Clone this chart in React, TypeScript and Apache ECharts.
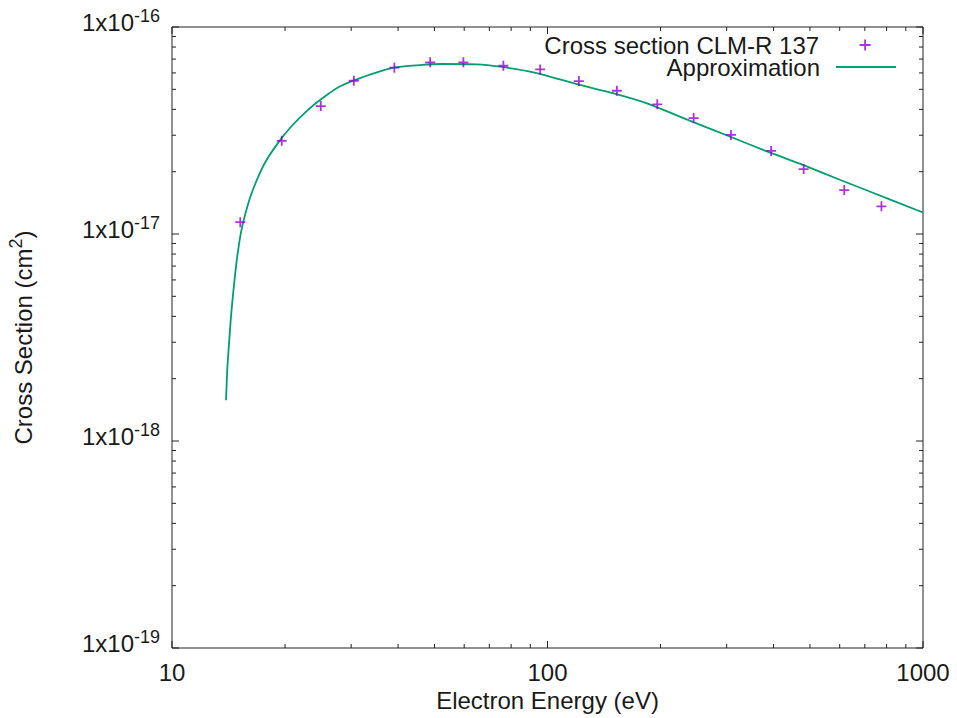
import React, { useEffect, useRef } from "react";
import * as echarts from "echarts";

// Measured cross-section points (eV, cm^2)
const energy = [15.2, 19.6, 24.9, 30.5, 39.1, 48.7, 59.7, 76.3, 95.6, 121.2, 153, 196, 245, 308, 394, 481, 617, 775];
const crossSection = [
  1.14e-17, 2.82e-17, 4.15e-17, 5.5e-17, 6.36e-17, 6.75e-17, 6.75e-17, 6.5e-17, 6.24e-17,
  5.48e-17, 4.92e-17, 4.23e-17, 3.63e-17, 3.01e-17, 2.52e-17, 2.06e-17, 1.63e-17, 1.36e-17,
];

// Approximation curve
const approxEnergy = [
  13.93, 14.04, 14.19, 14.36, 14.57, 14.81, 15.04, 15.27, 15.55, 15.89,
  16.23, 16.82, 17.73, 19.12, 20.75, 22.99, 25.46, 27.91, 31.56, 38.9,
  45.8, 52.8, 64.8, 74.8, 91.8, 119.8, 150, 184, 225.8, 306.8,
  392, 481, 602.6, 710, 1000,
];
const approxSigma = [
  1.575e-18, 2.247e-18, 2.97e-18, 4.01e-18, 5.297e-18, 6.998e-18, 8.643e-18, 1.021e-17, 1.18e-17, 1.364e-17,
  1.542e-17, 1.822e-17, 2.226e-17, 2.741e-17, 3.297e-17, 3.97e-17, 4.604e-17, 5.146e-17, 5.65e-17, 6.36e-17,
  6.55e-17, 6.625e-17, 6.6e-17, 6.43e-17, 6.04e-17, 5.29e-17, 4.78e-17, 4.28e-17, 3.68e-17, 2.95e-17,
  2.47e-17, 2.15e-17, 1.824e-17, 1.622e-17, 1.27e-17,
];

// Axis ticks
const xMajorTicks = [10, 100, 1000];
const yMajorExponents = [-19, -18, -17, -16];
const minorMultipliers = [2, 3, 4, 5, 6, 7, 8, 9];

const seriesNames = ["Cross section CLM-R 137", "Approximation"];

const FONT = "'Liberation Sans', Arial, Helvetica, sans-serif";
const TEXT = "#1a1a1a";
const AXIS = "#222222";
const PURPLE = "#9400d3";
const GREEN = "#009e73";

export default function App() {
  const ref = useRef<HTMLDivElement>(null);

  useEffect(() => {
    if (!ref.current) return;
    const chart = echarts.init(ref.current, undefined, { renderer: "svg" });

    const tickData: number[][] = [];
    xMajorTicks.forEach((v) => tickData.push([v, 1e-17, 0, 1]));
    xMajorTicks.slice(0, -1).forEach((d) =>
      minorMultipliers.forEach((m) => tickData.push([d * m, 1e-17, 0, 0]))
    );
    yMajorExponents.forEach((e) => tickData.push([100, Math.pow(10, e), 1, 1]));
    yMajorExponents.slice(0, -1).forEach((e) =>
      minorMultipliers.forEach((m) => tickData.push([100, m * Math.pow(10, e), 1, 0]))
    );

    const legendText = {
      fontSize: 24,
      lineHeight: 20,
      color: TEXT,
      fontFamily: FONT,
      padding: [0, 11, 0, 0],
    };

    const option: any = {
      animation: false,
      backgroundColor: "#ffffff",
      textStyle: { fontFamily: FONT },
      grid: {
        left: 172,
        top: 27,
        right: 34,
        bottom: 70,
        containLabel: false,
        outerBoundsMode: "none",
        show: true,
        borderColor: AXIS,
        borderWidth: 1,
        backgroundColor: "transparent",
      },
      legend: [
        {
          data: [seriesNames[0]],
          orient: "vertical",
          align: "right",
          right: 85.5,
          top: 33,
          itemWidth: 60,
          itemHeight: 11,
          padding: 0,
          selectedMode: false,
          textStyle: legendText,
          itemStyle: { borderWidth: 1.8 },
        },
        {
          data: [{ name: seriesNames[1], icon: "rect" }],
          orient: "vertical",
          align: "right",
          right: 61,
          top: 55,
          itemWidth: 60,
          itemHeight: 2,
          padding: 0,
          selectedMode: false,
          textStyle: legendText,
          itemStyle: { borderWidth: 0, color: GREEN },
        },
      ],
      xAxis: {
        type: "log",
        logBase: 10,
        min: 10,
        max: 1000,
        splitNumber: 2,
        name: "Electron Energy (eV)",
        nameLocation: "middle",
        nameGap: 40,
        nameTextStyle: { fontSize: 24, color: TEXT, fontFamily: FONT, lineHeight: 24 },
        axisLine: { show: false },
        axisTick: { show: false },
        splitLine: { show: false },
        axisLabel: {
          fontSize: 24,
          color: TEXT,
          fontFamily: FONT,
          margin: 12,
          lineHeight: 24,
          formatter: (v: number) => {
            const idx = xMajorTicks.findIndex((t) => Math.abs(Math.log10(t) - Math.log10(v)) < 1e-6);
            return idx >= 0 ? String(xMajorTicks[idx]) : "";
          },
        },
      },
      yAxis: {
        type: "log",
        logBase: 10,
        min: 1e-19,
        max: 1e-16,
        splitNumber: 3,
        name: "{n|Cross Section (cm}{s|2}{n|)}",
        nameLocation: "middle",
        nameRotate: 90,
        nameGap: 134,
        nameTextStyle: {
          color: TEXT,
          fontFamily: FONT,
          rich: {
            n: { fontSize: 24, lineHeight: 30, padding: [0, 0, 0, 0], color: TEXT, fontFamily: FONT },
            s: { fontSize: 18, lineHeight: 30, padding: [0, 0, 14, 0], color: TEXT, fontFamily: FONT },
          },
        },
        axisLine: { show: false },
        axisTick: { show: false },
        splitLine: { show: false },
        axisLabel: {
          margin: 12,
          color: TEXT,
          fontFamily: FONT,
          formatter: (v: number) => {
            const e = Math.round(Math.log10(v));
            return yMajorExponents.includes(e) ? `{b|1x10}{s|${e}}` : "";
          },
          rich: {
            b: { fontSize: 24, lineHeight: 30, padding: [0, 0, 9, 0], color: TEXT, fontFamily: FONT },
            s: { fontSize: 18, lineHeight: 30, padding: [0, 0, 22, 0], color: TEXT, fontFamily: FONT },
          },
        },
      },
      series: [
        {
          name: seriesNames[0],
          type: "scatter",
          symbol: "path://M0,5L10,5M5,0L5,10",
          symbolSize: 10,
          itemStyle: { color: "rgba(0,0,0,0)", borderColor: PURPLE, borderWidth: 1.8 },
          data: energy.map((e, i) => [e, crossSection[i]]),
          z: 3,
        },
        {
          name: seriesNames[1],
          type: "line",
          symbol: "none",
          showSymbol: false,
          smooth: 0.25,
          lineStyle: { color: GREEN, width: 1.8 },
          itemStyle: { color: GREEN },
          data: approxEnergy.map((e, i) => [e, approxSigma[i]]),
          z: 2,
        },
        {
          name: "ticks",
          type: "custom",
          silent: true,
          data: tickData,
          renderItem: (params: any, api: any) => {
            const cs = params.coordSys;
            const isY = api.value(2) === 1;
            const len = api.value(3) === 1 ? 7 : 4;
            const p = api.coord([api.value(0), api.value(1)]);
            const style = { stroke: AXIS, lineWidth: 1 };
            if (!isY) {
              const x = p[0];
              return {
                type: "group",
                children: [
                  { type: "line", shape: { x1: x, y1: cs.y + cs.height, x2: x, y2: cs.y + cs.height - len }, style },
                  { type: "line", shape: { x1: x, y1: cs.y, x2: x, y2: cs.y + len }, style },
                ],
              };
            }
            const y = p[1];
            return {
              type: "group",
              children: [
                { type: "line", shape: { x1: cs.x, y1: y, x2: cs.x + len, y2: y }, style },
                { type: "line", shape: { x1: cs.x + cs.width, y1: y, x2: cs.x + cs.width - len, y2: y }, style },
              ],
            };
          },
          z: 1,
        },
      ],
    };

    chart.setOption(option);
    return () => chart.dispose();
  }, []);

  return (
    <div
      ref={ref}
      style={{ position: "fixed", left: 0, top: 0, width: 957, height: 718, background: "#fff" }}
    />
  );
}
